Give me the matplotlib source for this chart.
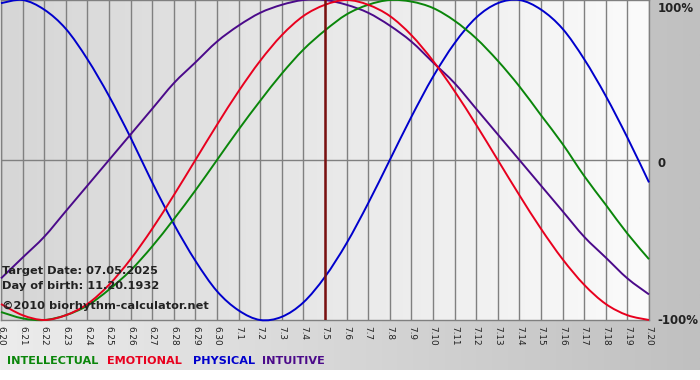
import numpy as np
import matplotlib
matplotlib.use("Agg")
import matplotlib.pyplot as plt
from matplotlib.colors import LinearSegmentedColormap
from matplotlib.path import Path
from matplotlib.patches import PathPatch

# day labels, 6.20 .. 7.20
days = ["6.20", "6.21", "6.22", "6.23", "6.24", "6.25", "6.26", "6.27", "6.28", "6.29", "6.30",
        "7.1", "7.2", "7.3", "7.4", "7.5", "7.6", "7.7", "7.8", "7.9", "7.10",
        "7.11", "7.12", "7.13", "7.14", "7.15", "7.16", "7.17", "7.18", "7.19", "7.20"]
target_day = "7.5"

physical = [0.98, 1.00, 0.94, 0.82, 0.63, 0.40, 0.14, -0.14, -0.40, -0.63, -0.82,
            -0.94, -1.00, -0.98, -0.89, -0.73, -0.52, -0.27, 0.00, 0.27, 0.52,
            0.73, 0.89, 0.98, 1.00, 0.94, 0.82, 0.63, 0.40, 0.14, -0.14]
emotional = [-0.90, -0.97, -1.00, -0.97, -0.90, -0.78, -0.62, -0.43, -0.22, 0.00, 0.22,
             0.43, 0.62, 0.78, 0.90, 0.97, 1.00, 0.97, 0.90, 0.78, 0.62,
             0.43, 0.22, 0.00, -0.22, -0.43, -0.62, -0.78, -0.90, -0.97, -1.00]
intellectual = [-0.95, -0.99, -1.00, -0.97, -0.91, -0.81, -0.69, -0.54, -0.37, -0.19, 0.00,
                0.19, 0.37, 0.54, 0.69, 0.81, 0.91, 0.97, 1.00, 0.99, 0.95,
                0.87, 0.76, 0.62, 0.46, 0.28, 0.10, -0.10, -0.28, -0.46, -0.62]
intuitive = [-0.74, -0.61, -0.48, -0.32, -0.16, 0.00, 0.16, 0.32, 0.48, 0.61, 0.74,
             0.84, 0.92, 0.97, 1.00, 1.00, 0.97, 0.92, 0.84, 0.74, 0.61,
             0.48, 0.32, 0.16, 0.00, -0.16, -0.32, -0.48, -0.61, -0.74, -0.84]

GREEN = "#0a860a"
RED = "#e8001e"
BLUE = "#0000cc"
PURPLE = "#4b0a8a"


def smooth_path(xs, ys):
    # catmull-rom through the points, drawn as cubic bezier segments
    pts = np.column_stack([xs, ys]).astype(float)
    verts = [pts[0]]
    codes = [Path.MOVETO]
    n = len(pts)
    for i in range(n - 1):
        p0 = pts[max(i - 1, 0)]
        p1 = pts[i]
        p2 = pts[i + 1]
        p3 = pts[min(i + 2, n - 1)]
        verts += [p1 + (p2 - p0) / 6, p2 - (p3 - p1) / 6, p2]
        codes += [Path.CURVE4] * 3
    return Path(verts, codes)


W, H = 700, 380
fig = plt.figure(figsize=(W / 100, H / 100), dpi=100)
fig.patch.set_facecolor("white")

# grey gradient frame behind everything
bg = fig.add_axes([0, 10 / H, 1, 370 / H])
bg.axis("off")
bg_cmap = LinearSegmentedColormap.from_list("bg", ["#ececec", "#c0c0c0"])
bg.imshow(np.linspace(0, 1, 256).reshape(1, -1), cmap=bg_cmap, aspect="auto",
          extent=[0, 1, 0, 1])
bg.set_xlim(0, 1)
bg.set_ylim(0, 1)

ax = fig.add_axes([1 / W, 60 / H, 648 / W, 320 / H])
x = np.arange(len(days))
ax.set_xlim(0, len(days) - 1)
ax.set_ylim(-1, 1)

plot_cmap = LinearSegmentedColormap.from_list("pa", ["#d6d6d6", "#fbfbfb"])
ax.imshow(np.linspace(0, 1, 256).reshape(1, -1), cmap=plot_cmap, aspect="auto",
          extent=[0, len(days) - 1, -1, 1], zorder=0)

for xi in x:
    ax.axvline(xi, color="#808080", lw=1, zorder=1)
ax.axhline(0, color="#808080", lw=1, zorder=1)

for vals, c in [(physical, BLUE), (intuitive, PURPLE), (intellectual, GREEN), (emotional, RED)]:
    ax.add_patch(PathPatch(smooth_path(x, vals), facecolor="none", edgecolor=c,
                           lw=1.4, zorder=3, clip_on=False))

ax.axvline(days.index(target_day), color="#7a1010", lw=1.8, zorder=4)

ax.set_xticks(x)
ax.set_xticklabels(days, rotation=270, fontsize=6.4, color="#222222")
ax.tick_params(axis="x", length=0, pad=4)
ax.set_yticks([])
for s in ax.spines.values():
    s.set_color("#808080")
    s.set_linewidth(1)

# right-hand scale labels
lab = dict(fontsize=8.5, fontweight="bold", color="#222222", clip_on=False)
ax.text(30.4, 0.99, "100%", va="top", ha="left", **lab)
ax.text(30.4, -0.02, "0", va="center", ha="left", **lab)
ax.text(30.4, -1.0, "-100%", va="center", ha="left", **lab)

# info text
info = dict(fontsize=8.2, fontweight="bold", color="#222222", ha="left", va="center")
fig.text(2 / W, 1 - 271 / H, "Target Date: 07.05.2025", **info)
fig.text(2 / W, 1 - 286 / H, "Day of birth: 11.20.1932", **info)
fig.text(2 / W, 1 - 306 / H, "©2010 biorhythm-calculator.net", **info)

# legend
leg = dict(fontsize=8.1, fontweight="bold", ha="left", va="center")
fig.text(7 / W, 1 - 361 / H, "INTELLECTUAL", color=GREEN, **leg)
fig.text(107 / W, 1 - 361 / H, "EMOTIONAL", color=RED, **leg)
fig.text(193 / W, 1 - 361 / H, "PHYSICAL", color=BLUE, **leg)
fig.text(262 / W, 1 - 361 / H, "INTUITIVE", color=PURPLE, **leg)

fig.savefig("out.png", dpi=100)
